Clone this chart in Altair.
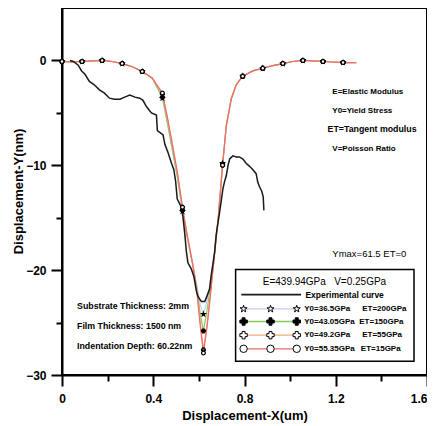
import altair as alt
import pandas as pd

# ---------------- data ----------------
X_MODEL = [0, 0.044, 0.088, 0.132, 0.176, 0.22, 0.264, 0.308, 0.352, 0.396,
           0.44, 0.462, 0.484, 0.506, 0.528, 0.55, 0.572, 0.59, 0.606, 0.62,
           0.636, 0.652, 0.668, 0.686, 0.704, 0.72, 0.742, 0.764, 0.792, 0.836,
           0.88, 0.924, 0.968, 1.012, 1.056, 1.10, 1.144, 1.188, 1.232, 1.29]

_TOP_L = [-0.1, -0.15, -0.1, -0.05, 0.0, -0.1, -0.3, -0.6, -1.05, -1.7]
_TOP_R = [-2.3, -1.5, -1.0, -0.75, -0.5, -0.3, -0.1, 0.0, -0.05, -0.1, -0.15, -0.2, -0.2]

Y_ET200 = _TOP_L + [-3.6, -6.0, -8.6, -11.2, -14.4, -17.0, -19.3, -21.3, -23.3, -24.2,
                    -22.9, -20.9, -18.4, -14.7, -9.8, -6.2, -3.6] + _TOP_R
Y_ET150 = _TOP_L + [-3.5, -5.9, -8.5, -11.1, -14.3, -17.0, -19.4, -21.6, -24.2, -25.8,
                    -23.8, -21.4, -18.5, -14.7, -9.9, -6.2, -3.6] + _TOP_R
Y_ET55 = _TOP_L + [-3.2, -5.5, -8.1, -10.8, -14.0, -16.8, -19.3, -21.7, -25.0, -27.6,
                   -25.1, -22.0, -18.6, -14.8, -10.0, -6.3, -3.7] + _TOP_R
Y_ET15 = _TOP_L + [-3.1, -5.4, -8.0, -10.7, -14.0, -16.8, -19.3, -21.8, -25.3, -27.9,
                   -25.4, -22.1, -18.6, -14.8, -10.0, -6.3, -3.7] + _TOP_R

X_MARK = [0, 0.088, 0.176, 0.264, 0.352, 0.44, 0.528, 0.62, 0.704, 0.792,
          0.88, 0.968, 1.056, 1.144, 1.232]

X_EXP = [0.035, 0.05, 0.071, 0.086, 0.10, 0.12, 0.14, 0.164, 0.185, 0.208,
         0.23, 0.254, 0.275, 0.297, 0.32, 0.341, 0.355, 0.37, 0.392, 0.414,
         0.418, 0.443, 0.451, 0.465, 0.48, 0.49, 0.498, 0.505, 0.523, 0.53,
         0.538, 0.545, 0.552, 0.567, 0.578, 0.589, 0.596, 0.611, 0.626, 0.635,
         0.647, 0.654, 0.661, 0.669, 0.676, 0.69, 0.698, 0.705, 0.712, 0.72,
         0.728, 0.735, 0.749, 0.764, 0.778, 0.793, 0.807, 0.822, 0.836, 0.851,
         0.858, 0.865, 0.876, 0.882, 0.885]
Y_EXP = [0.0, -0.1, -0.45, -1.0, -1.3, -2.0, -2.3, -2.8, -3.1, -3.6,
         -3.7, -3.7, -3.5, -3.3, -3.5, -3.6, -3.8, -4.4, -5.0, -5.2,
         -6.7, -7.1, -8.0, -8.8, -9.8, -10.4, -11.5, -13.2, -14.0, -14.9,
         -16.5, -18.2, -19.3, -19.9, -20.6, -22.0, -22.5, -23.0, -23.0, -22.5,
         -21.8, -20.5, -19.5, -18.3, -16.6, -14.6, -13.4, -12.3, -11.6, -11.0,
         -10.0, -9.4, -9.1, -9.2, -9.2, -9.4, -9.8, -10.1, -10.4, -10.8,
         -11.6, -12.0, -12.5, -13.0, -14.3]

SERIES = ["ET200", "ET150", "ET55", "ET15"]
Y0_LABELS = ["Y0=36.5GPa", "Y0=43.05GPa", "Y0=49.2GPa", "Y0=55.35GPa"]
ET_LABELS = ["ET=200GPa", "ET=150GPa", "ET=55GPa", "ET=15GPa"]
COLORS = ["#c4ccf4", "#86c95a", "#f5a97e", "#ee6b6b"]
STAR = "M0,-1L0.2245,-0.309L0.951,-0.309L0.363,0.118L0.588,0.809L0,0.382L-0.588,0.809L-0.363,0.118L-0.951,-0.309L-0.2245,-0.309Z"
SHAPES = [STAR, "cross", "cross", "circle"]
FILLS = ["white", "black", "white", "white"]

X_TICKS = [0, 0.2, 0.4, 0.6, 0.8, 1.0, 1.2, 1.4, 1.6]
Y_TICKS = [-30, -25, -20, -15, -10, -5, 0]

# ---------------- tables ----------------
lines = []
for s, ys in zip(SERIES, [Y_ET200, Y_ET150, Y_ET55, Y_ET15]):
    for i, (xv, yv) in enumerate(zip(X_MODEL, ys)):
        lines.append({"series": s, "i": i, "x": xv, "y": yv})
df_lines = pd.DataFrame(lines)
df_marks = df_lines[df_lines["x"].isin(X_MARK)]
df_exp = pd.DataFrame({"i": range(len(X_EXP)), "x": X_EXP, "y": Y_EXP})

# legend layout (data coordinates inside the plot)
LEG_BOX = {"x": 0.761, "x2": 1.543, "y": -19.95, "y2": -28.7}
LEG_ROW_Y = [-23.7, -24.9, -26.2, -27.5]
LEG_MARK_X = [0.796, 0.914, 1.029]
LEG_Y0_X = 1.062
LEG_ET_X = [1.316, 1.303, 1.316, 1.310]

leg_lines = []
leg_marks = []
for s, ry in zip(SERIES, LEG_ROW_Y):
    leg_lines.append({"series": s, "i": 0, "x": LEG_MARK_X[0], "y": ry})
    leg_lines.append({"series": s, "i": 1, "x": LEG_MARK_X[-1], "y": ry})
    for mx in LEG_MARK_X:
        leg_marks.append({"series": s, "x": mx, "y": ry})
df_leg_lines = pd.DataFrame(leg_lines)
df_leg_marks = pd.DataFrame(leg_marks)
df_leg_exp = pd.DataFrame({"i": [0, 1], "x": [0.786, 1.048], "y": [-22.33, -22.33]})

bold_texts = [
    ("E=Elastic Modulus", 1.185, -2.97, 8),
    ("Y0=Yield Stress", 1.185, -4.78, 8),
    ("ET=Tangent modulus", 1.164, -6.55, 8.8),
    ("V=Poisson Ratio", 1.185, -8.46, 8),
    ("Substrate Thickness: 2mm", 0.066, -23.4, 8.8),
    ("Film Thickness: 1500 nm", 0.066, -25.3, 8.8),
    ("Indentation Depth: 60.22nm", 0.066, -27.2, 8.8),
    ("Experimental curve", 1.067, -22.33, 8.5),
]
for t, ry in zip(Y0_LABELS, LEG_ROW_Y):
    bold_texts.append((t, LEG_Y0_X, ry, 8))
for t, ex, ry in zip(ET_LABELS, LEG_ET_X, LEG_ROW_Y):
    bold_texts.append((t, ex, ry, 8))
df_bold = pd.DataFrame(bold_texts, columns=["text", "x", "y", "fs"])

reg_texts = [
    ("Ymax=61.5 ET=0", 1.185, -18.5, 9.5),
    ("E=439.94GPa", 0.88, -21.16, 10),
    ("V=0.25GPa", 1.193, -21.16, 10),
]
df_reg = pd.DataFrame(reg_texts, columns=["text", "x", "y", "fs"])

# ---------------- encodings ----------------
FONT = "Liberation Sans"
xs = alt.Scale(domain=[0, 1.6], nice=False, zero=False)
ysc = alt.Scale(domain=[-30, 5], nice=False, zero=False)

x_axis = alt.Axis(
    values=X_TICKS, grid=False, title="Displacement-X(um)",
    labelExpr="round(datum.value*10) % 4 == 0 ? (datum.value == 0 ? '0' : format(datum.value, '.1f')) : ''",
    tickSize={"condition": {"test": "round(datum.value*10) % 4 != 0", "value": 6}, "value": 11},
    labelAlign={"condition": {"test": "datum.value >= 1.55", "value": "right"}, "value": "center"},
    tickWidth=2, tickColor="black", domainColor="black", domainWidth=2,
    labelFont=FONT, labelFontSize=12, labelFontWeight="bold", labelColor="black",
    labelPadding=7, labelFlush=False, labelOverlap=False,
    titleFont=FONT, titleFontSize=13, titleFontWeight="bold", titleColor="black",
    titleY=40, titleBaseline="middle",
)
y_axis = alt.Axis(
    values=Y_TICKS, grid=False, title="Displacement-Y(nm)",
    labelExpr="datum.value % 10 == 0 ? format(datum.value, 'd') : ''",
    tickSize={"condition": {"test": "datum.value % 10 != 0", "value": 6}, "value": 11},
    tickWidth=2, tickColor="black", domainColor="black", domainWidth=2,
    labelFont=FONT, labelFontSize=12, labelFontWeight="bold", labelColor="black",
    labelPadding=5, labelFlush=False, labelOverlap=False,
    titleFont=FONT, titleFontSize=13, titleFontWeight="bold", titleColor="black",
    titleX=-44, titleY=183, titleAngle=-90, titleAlign="center", titleBaseline="middle",
)

X = alt.X("x:Q", scale=xs, axis=x_axis)
Y = alt.Y("y:Q", scale=ysc, axis=y_axis)
col = alt.Color("series:N", scale=alt.Scale(domain=SERIES, range=COLORS), legend=None)
shp = alt.Shape("series:N", scale=alt.Scale(domain=SERIES, range=SHAPES), legend=None)
fil = alt.Fill("series:N", scale=alt.Scale(domain=SERIES, range=FILLS), legend=None)

model_lines = alt.Chart(df_lines).mark_line(strokeWidth=1.2, clip=True).encode(
    x=X, y=Y, color=col, detail="series:N", order="i:Q")
exp_line = alt.Chart(df_exp).mark_line(strokeWidth=1.5, color="#1a1a1a").encode(
    x=X, y=Y, order="i:Q")
model_marks = alt.Chart(df_marks).mark_point(
    filled=True, stroke="black", strokeWidth=1.2, size=14, opacity=1).encode(
    x=X, y=Y, shape=shp, fill=fil)

leg_box = alt.Chart(pd.DataFrame([LEG_BOX])).mark_rect(
    fill="white", stroke="black", strokeWidth=1.5).encode(
    x=X, x2="x2:Q", y=Y, y2="y2:Q")
leg_line_layer = alt.Chart(df_leg_lines).mark_line(strokeWidth=1.3).encode(
    x=X, y=Y, color=col, detail="series:N", order="i:Q")
leg_exp_layer = alt.Chart(df_leg_exp).mark_line(strokeWidth=1.6, color="#1a1a1a").encode(
    x=X, y=Y, order="i:Q")
leg_mark_layer = alt.Chart(df_leg_marks).mark_point(
    filled=True, stroke="black", strokeWidth=1, size=55, opacity=1).encode(
    x=X, y=Y, shape=shp, fill=fil)

bold_layer = alt.Chart(df_bold).mark_text(
    align="left", baseline="middle", font=FONT, fontWeight="bold", color="black").encode(
    x=X, y=Y, text="text:N", size=alt.Size("fs:Q", scale=None))
reg_layer = alt.Chart(df_reg).mark_text(
    align="left", baseline="middle", font=FONT, fontWeight="normal", color="black").encode(
    x=X, y=Y, text="text:N", size=alt.Size("fs:Q", scale=None))

chart = alt.layer(
    model_lines, exp_line, model_marks,
    leg_box, leg_line_layer, leg_exp_layer, leg_mark_layer,
    bold_layer, reg_layer,
).properties(
    width=365, height=367,
    autosize=alt.AutoSizeParams(type="none"),
    padding={"left": 54, "top": 0, "right": 0, "bottom": 50},
    background="white",
).configure_view(stroke="black", strokeWidth=2)

chart.save("out.html", embed_options={"renderer": "svg", "actions": False})
